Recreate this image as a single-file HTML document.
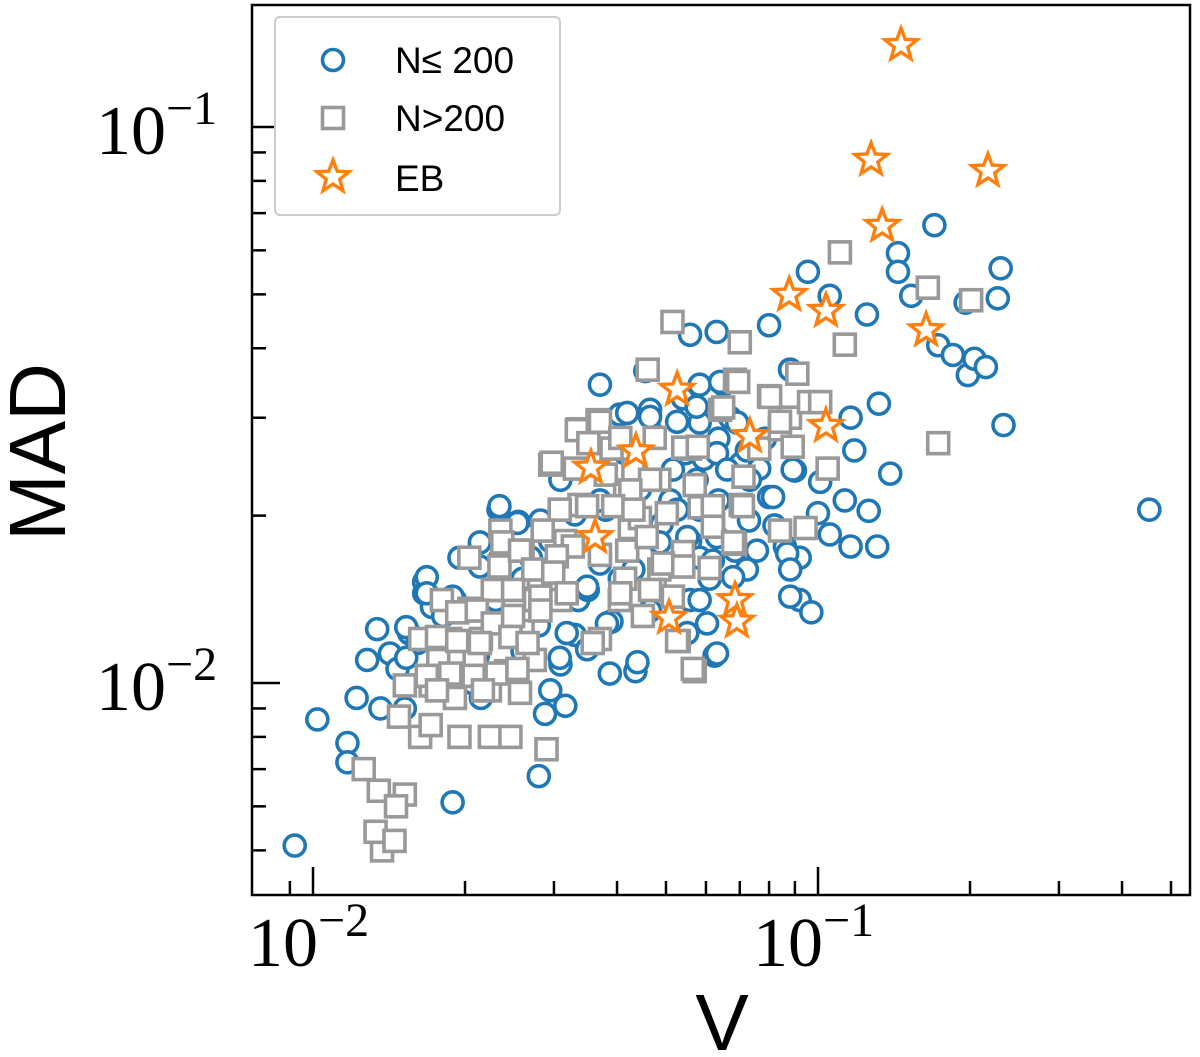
<!DOCTYPE html>
<html><head><meta charset="utf-8"><style>
body{margin:0;background:#fff}
svg{display:block}
.tk{font-family:"Liberation Serif",serif;font-size:70px;fill:#000}
.lab{font-family:"Liberation Sans",sans-serif;font-size:80px;fill:#000}
.lg{font-family:"Liberation Sans",sans-serif;font-size:37px;fill:#000}
</style></head><body>
<svg id="chart" width="1200" height="1057" viewBox="0 0 1200 1057" xmlns="http://www.w3.org/2000/svg"></svg>
<script>
const circX=[0.0092,0.0102,0.0117,0.0117,0.0122,0.0128,0.0134,0.0136,0.0142,0.0147,0.0152,0.0166,0.0166,0.0172,0.0189,0.0191,0.0212,0.0233,0.0255,0.0280,0.0288,0.0309,0.0316,0.0295,0.0330,0.0335,0.0370,0.0370,0.0380,0.0405,0.0415,0.0435,0.0444,0.0455,0.0465,0.0475,0.0490,0.0510,0.0558,0.0546,0.0558,0.0583,0.0594,0.0624,0.0630,0.0635,0.0650,0.0670,0.0685,0.0703,0.0730,0.0765,0.0800,0.0800,0.0820,0.0880,0.0900,0.0920,0.0955,0.0970,0.1000,0.1010,0.1055,0.1055,0.1130,0.1160,0.1160,0.1180,0.1250,0.1260,0.1310,0.1320,0.1390,0.1440,0.1440,0.1530,0.1700,0.1730,0.1850,0.1960,0.1980,0.2040,0.2150,0.2270,0.2300,0.2330,0.4530,0.0485,0.0465,0.0330,0.0280,0.0260,0.0235,0.0195,0.0180,0.0207,0.0350,0.0405,0.0583,0.0610,0.0558,0.0370,0.0295,0.0309,0.0444,0.0635,0.0540,0.0785,0.0920,0.0860,0.0260,0.0230,0.0270,0.0390,0.0215,0.0155,
0.0419,0.0465,0.0526,0.0583,0.0640,0.0575,0.0881,0.0692,0.0723,0.0631,0.0516,0.0575,0.0661,0.0733,0.0815,0.0891,0.0583,0.0526,0.0551,0.0631,0.0757,0.0869,0.0619,0.0723,0.0881,0.0679,0.0583,0.0603,0.0881,0.0551,0.0382,0.0318,0.0349,0.0387,0.0439,0.0631,0.0308,0.0234,0.0254,0.0282,0.0214,0.0214,0.0168,0.0168,0.0189,0.0181,0.0153,0.0161,0.0153,0.0349,0.0431,0.0370,0.0486];
const circY=[0.0051,0.0086,0.0078,0.0072,0.0094,0.0110,0.0125,0.0090,0.0113,0.0106,0.0090,0.0152,0.0145,0.0137,0.0061,0.0141,0.0112,0.0205,0.0195,0.0068,0.0088,0.0108,0.0091,0.0097,0.0201,0.0141,0.0344,0.0170,0.0205,0.0304,0.0259,0.0105,0.0223,0.0364,0.0310,0.0279,0.0193,0.0213,0.0423,0.0259,0.0180,0.0344,0.0253,0.0112,0.0428,0.0213,0.0344,0.0300,0.0173,0.0248,0.0196,0.0243,0.0440,0.0216,0.0192,0.0366,0.0241,0.0141,0.0549,0.0134,0.0202,0.0230,0.0497,0.0185,0.0213,0.0300,0.0176,0.0262,0.0460,0.0204,0.0176,0.0318,0.0238,0.0593,0.0549,0.0497,0.0666,0.0405,0.0389,0.0483,0.0358,0.0383,0.0370,0.0492,0.0557,0.0291,0.0205,0.0160,0.0135,0.0122,0.0127,0.0154,0.0168,0.0168,0.0120,0.0100,0.0147,0.0154,0.0168,0.0154,0.0141,0.0213,0.0180,0.0232,0.0190,0.0275,0.0325,0.0275,0.0168,0.0176,0.0114,0.0141,0.0168,0.0129,0.0094,0.0123,
0.0306,0.0301,0.0295,0.0294,0.0348,0.0314,0.0366,0.0294,0.0262,0.0259,0.0242,0.0232,0.0242,0.0232,0.0216,0.0242,0.0205,0.0205,0.0183,0.0183,0.0173,0.0171,0.0166,0.0160,0.0160,0.0155,0.0141,0.0128,0.0143,0.0123,0.0128,0.0123,0.0115,0.0104,0.0109,0.0113,0.0111,0.0208,0.0194,0.0196,0.0179,0.0162,0.0155,0.0145,0.0143,0.0132,0.0126,0.0118,0.0111,0.0149,0.0160,0.0164,0.0179];
const sqX=[0.0137,0.0133,0.0145,0.0152,0.0135,0.0146,0.0126,0.0163,0.0152,0.0171,0.0195,0.0177,0.0187,0.0204,0.0230,0.0224,0.0246,0.0290,0.0209,0.0241,0.0260,0.0275,0.0295,0.0316,0.0337,0.0295,0.0335,0.0366,0.0380,0.0415,0.0424,0.0460,0.0515,0.0485,0.0530,0.0570,0.0558,0.0583,0.0620,0.0640,0.0700,0.0685,0.0703,0.0685,0.0800,0.0880,0.0910,0.0960,0.1010,0.1045,0.1130,0.1105,0.1650,0.2010,0.1730,0.0945,0.0475,0.0405,0.0370,0.0309,0.0260,0.0235,0.0204,0.0180,0.0163,0.0191,0.0215,0.0250,0.0280,0.0330,0.0390,0.0444,0.0485,0.0540,0.0610,0.0712,0.0765,0.0840,0.0275,0.0224,0.0148,0.0171,0.0370,0.0415,0.0570,
0.0695,0.0804,0.0649,0.0333,0.0370,0.0406,0.0475,0.0351,0.0297,0.0541,0.0578,0.0841,0.0891,0.0431,0.0465,0.0425,0.0308,0.0349,0.0393,0.0431,0.0502,0.0619,0.0710,0.0619,0.0841,0.0237,0.0285,0.0327,0.0304,0.0419,0.0458,0.0493,0.0541,0.0679,0.0234,0.0257,0.0273,0.0299,0.0227,0.0249,0.0282,0.0318,0.0406,0.0465,0.0516,0.0450,0.0193,0.0211,0.0227,0.0249,0.0282,0.0176,0.0193,0.0214,0.0246,0.0266,0.0358,0.0526,0.0565,0.0168,0.0187,0.0208,0.0231,0.0254,0.0176,0.0217,0.0257];
const sqY=[0.0050,0.0054,0.0052,0.0063,0.0064,0.0060,0.0070,0.0080,0.0099,0.0084,0.0080,0.0110,0.0120,0.0136,0.0147,0.0080,0.0080,0.0076,0.0110,0.0105,0.0124,0.0141,0.0160,0.0180,0.0209,0.0247,0.0286,0.0297,0.0237,0.0218,0.0190,0.0366,0.0446,0.0160,0.0119,0.0105,0.0264,0.0207,0.0193,0.0310,0.0410,0.0351,0.0209,0.0178,0.0328,0.0300,0.0360,0.0320,0.0320,0.0243,0.0406,0.0595,0.0514,0.0488,0.0270,0.0190,0.0147,0.0141,0.0120,0.0141,0.0173,0.0188,0.0168,0.0141,0.0120,0.0094,0.0120,0.0141,0.0154,0.0243,0.0264,0.0198,0.0232,0.0172,0.0161,0.0235,0.0264,0.0286,0.0110,0.0097,0.0087,0.0099,0.0170,0.0154,0.0227,
0.0348,0.0327,0.0313,0.0285,0.0295,0.0276,0.0276,0.0270,0.0249,0.0265,0.0266,0.0295,0.0266,0.0242,0.0232,0.0222,0.0205,0.0208,0.0208,0.0205,0.0202,0.0208,0.0208,0.0191,0.0188,0.0179,0.0188,0.0176,0.0169,0.0173,0.0183,0.0164,0.0162,0.0179,0.0162,0.0173,0.0160,0.0158,0.0147,0.0147,0.0143,0.0145,0.0145,0.0147,0.0143,0.0132,0.0134,0.0135,0.0128,0.0132,0.0135,0.0121,0.0119,0.0118,0.0121,0.0118,0.0118,0.0119,0.0106,0.0103,0.0104,0.0103,0.0104,0.0106,0.0097,0.0097,0.0096];
const ebX=[0.146,0.1274,0.217,0.134,0.0877,0.1037,0.1637,0.0526,0.0436,0.0733,0.1037,0.0355,0.0362,0.0507,0.0685,0.0691];
const ebY=[0.1404,0.0873,0.0834,0.0664,0.0499,0.0467,0.0431,0.0337,0.0261,0.0278,0.029,0.0244,0.0183,0.0131,0.0141,0.0129];
const xMajor=[0.01,0.1];const xMajorLabels=["-2","-1"];
const yMajor=[0.01,0.1];const yMajorLabels=["-2","-1"];
const xMinor=[0.009,0.02,0.03,0.04,0.05,0.06,0.07,0.08,0.09,0.2,0.3,0.4,0.5];
const yMinor=[0.005,0.006,0.007,0.008,0.009,0.02,0.03,0.04,0.05,0.06,0.07,0.08,0.09];

const L=252,R=1190,T=5,B=895;
const xs=v=>313+(Math.log10(v)+2)*505;
const ys=v=>683-(Math.log10(v)+2)*556;
const svg=document.getElementById('chart');
const NS='http://www.w3.org/2000/svg';
function mk(tag,a,parent){const e=document.createElementNS(NS,tag);for(const k in a)e.setAttribute(k,a[k]);(parent||svg).appendChild(e);return e;}
const circStyle={fill:'#fff',stroke:'#1f77b4','stroke-width':3.6};
const sqStyle={fill:'#fff',stroke:'#999','stroke-width':3.6};
function starPts(cx,cy,r){let p=[];for(let i=0;i<10;i++){const rr=i%2?r*0.42:r;const a=-Math.PI/2+i*Math.PI/5;p.push((cx+rr*Math.cos(a)).toFixed(1)+','+(cy+rr*Math.sin(a)).toFixed(1));}return p.join(' ');}

const gC=mk('g',{});
circX.forEach((x,i)=>{const c=mk('circle',Object.assign({cx:xs(x),cy:ys(circY[i]),r:10.5},circStyle),gC);

});
const gS=mk('g',{});
sqX.forEach((x,i)=>{const s=mk('rect',Object.assign({x:xs(x)-10.5,y:ys(sqY[i])-10.5,width:21,height:21},sqStyle),gS);

});
const gE=mk('g',{});
ebX.forEach((x,i)=>{const s=mk('polygon',{points:starPts(xs(x),ys(ebY[i]),17),fill:'#fff',stroke:'#ff7f0e','stroke-width':3.4,'stroke-linejoin':'miter'},gE);

});

const fr=mk('rect',{x:L,y:T,width:R-L,height:B-T,fill:'none',stroke:'#000','stroke-width':2.5});


const gT=mk('g',{stroke:'#000','stroke-width':2.5});
xMajor.forEach(v=>mk('line',{x1:xs(v),x2:xs(v),y1:B,y2:B-28},gT));
xMinor.forEach(v=>mk('line',{x1:xs(v),x2:xs(v),y1:B,y2:B-14},gT));
yMajor.forEach(v=>mk('line',{x1:L,x2:L+28,y1:ys(v),y2:ys(v)},gT));
yMinor.forEach(v=>mk('line',{x1:L,x2:L+14,y1:ys(v),y2:ys(v)},gT));
xMajor.forEach((v,i)=>{const t=mk('text',{x:xs(v)-65,y:966,class:'tk'});t.innerHTML='10<tspan dy="-30" font-size="48">−'+xMajorLabels[i].slice(1)+'</tspan>';

});
yMajor.forEach((v,i)=>{const t=mk('text',{x:96,y:ys(v)+27,class:'tk'});t.innerHTML='10<tspan dy="-30" font-size="48">−'+yMajorLabels[i].slice(1)+'</tspan>';

});
const xl=mk('text',{x:722,y:1050,class:'lab','text-anchor':'middle'});xl.textContent='V';


const yl=mk('text',{x:65,y:452,class:'lab','text-anchor':'middle',transform:'rotate(-90 65 452)'});yl.textContent='MAD';



const lg=mk('g',{});
mk('rect',{x:275,y:17,width:285,height:198,rx:5,fill:'#fff',stroke:'#ccc','stroke-width':2},lg);
mk('circle',Object.assign({cx:333,cy:60,r:10.5},circStyle),lg);
mk('rect',Object.assign({x:322.5,y:107.5,width:21,height:21},sqStyle),lg);
mk('polygon',{points:starPts(333,177,17),fill:'#fff',stroke:'#ff7f0e','stroke-width':3.4},lg);
[['N≤ 200',60],['N>200',118],['EB',178]].forEach(([s,y])=>{const t=mk('text',{x:395,y:y+13,class:'lg'},lg);t.textContent=s;

});
</script>
</body></html>
